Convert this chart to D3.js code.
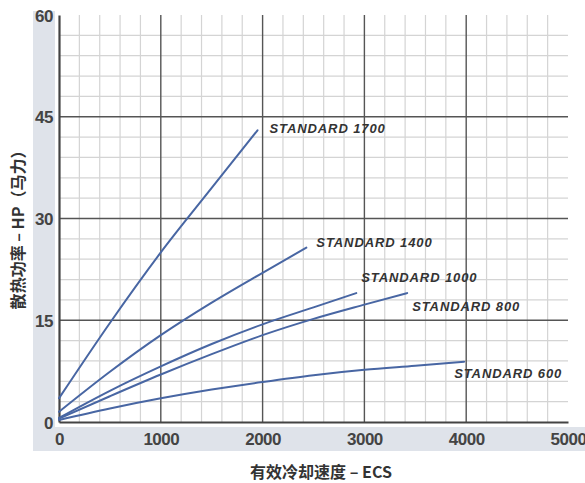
<!DOCTYPE html>
<html>
<head>
<meta charset="utf-8">
<script src="https://cdn.jsdelivr.net/npm/d3@7"></script>
<style>
	body { margin: 0; background: #fff; }
	svg { display: block; }
</style>
</head>
<body>
<div id="chart"></div>
<script>
// Chart data
//---------------------------------------------------------------------------
var modelNames = ["STANDARD 1700", "STANDARD 1400", "STANDARD 1000", "STANDARD 800", "STANDARD 600"];
var ecs1700 = [0, 500, 1000, 1500, 1950];
var hp1700 = [3.5, 14.6, 25, 34.5, 43];
var ecs1400 = [0, 500, 1000, 1500, 2000, 2430];
var hp1400 = [1.5, 7.4, 12.8, 17.6, 22, 25.7];
var ecs1000 = [0, 500, 1000, 1500, 2000, 2500, 2920];
var hp1000 = [0.6, 4.6, 8.2, 11.5, 14.4, 16.9, 19];
var ecs800 = [0, 500, 1000, 1500, 2000, 2500, 3000, 3420];
var hp800 = [0.5, 3.8, 7, 10, 12.8, 15.2, 17.3, 19];
var ecs600 = [0, 500, 1000, 1500, 2000, 2500, 3000, 3500, 3980];
var hp600 = [0.3, 2, 3.5, 4.8, 5.9, 6.9, 7.7, 8.3, 8.9];

var xTicks = [0, 1000, 2000, 3000, 4000, 5000];
var yTicks = [0, 15, 30, 45, 60];
var xTitle = "有效冷却速度 – ECS";
var yTitle = "散热功率 – HP（马力）";

// Graphical parameters
var width = 585, height = 483;
var mLeft = 59, mRight = 568, mTop = 15, mBottom = 422;
var lineColor = "#4866a3";

var svg = d3.select("#chart").append("svg")
	.attr("width", width)
	.attr("height", height);

var x = d3.scaleLinear().domain([0, 5000]).range([mLeft, mRight]);
var y = d3.scaleLinear().domain([0, 60]).range([mBottom, mTop]);

// grey bands behind the tick labels
svg.append("rect")
	.attr("x", 33).attr("y", 11)
	.attr("width", 22).attr("height", 440)
	.attr("fill", "#dfe3ea");
svg.append("rect")
	.attr("x", 33).attr("y", 427)
	.attr("width", width - 33).attr("height", 24)
	.attr("fill", "#dfe3ea");

// minor grid
var minorX = d3.range(200, 5000, 200).filter(function(d) { return d % 1000 != 0; });
var minorY = d3.range(3, 60, 3).filter(function(d) { return d % 15 != 0; });

svg.append("g").selectAll("line")
	.data(minorX).enter()
	.append("line")
	.attr("x1", function(d) { return x(d); })
	.attr("x2", function(d) { return x(d); })
	.attr("y1", mTop).attr("y2", mBottom)
	.attr("stroke", "#d4d4d4")
	.attr("stroke-width", 1.2);
svg.append("g").selectAll("line")
	.data(minorY).enter()
	.append("line")
	.attr("x1", mLeft).attr("x2", mRight)
	.attr("y1", function(d) { return y(d); })
	.attr("y2", function(d) { return y(d); })
	.attr("stroke", "#d4d4d4")
	.attr("stroke-width", 1.2);

// major grid
svg.append("g").selectAll("line")
	.data([1000, 2000, 3000, 4000]).enter()
	.append("line")
	.attr("x1", function(d) { return x(d); })
	.attr("x2", function(d) { return x(d); })
	.attr("y1", mTop).attr("y2", mBottom)
	.attr("stroke", "#555")
	.attr("stroke-width", 1.4);
svg.append("g").selectAll("line")
	.data([15, 30, 45]).enter()
	.append("line")
	.attr("x1", mLeft).attr("x2", mRight)
	.attr("y1", function(d) { return y(d); })
	.attr("y2", function(d) { return y(d); })
	.attr("stroke", "#555")
	.attr("stroke-width", 1.4);

// axes
var xAxis = d3.axisBottom(x).tickValues(xTicks).tickFormat(d3.format("d"))
	.tickSize(0).tickPadding(11);
var yAxis = d3.axisLeft(y).tickValues(yTicks).tickSize(0).tickPadding(6);

var gx = svg.append("g")
	.attr("transform", "translate(0," + mBottom + ")")
	.call(xAxis);
var gy = svg.append("g")
	.attr("transform", "translate(" + mLeft + ",0)")
	.call(yAxis);

[gx, gy].forEach(function(g) {
	g.select(".domain").attr("stroke", "#444").attr("stroke-width", 2.2);
	g.selectAll("text")
		.attr("fill", "#444")
		.style("font-family", "'Liberation Sans', Arial, sans-serif")
		.style("font-weight", "bold")
		.style("font-size", "17px")
		.style("letter-spacing", "-0.5px");
});
gy.selectAll("text").attr("dy", "0.36em");

// curves
var line = d3.line()
	.x(function(d) { return x(d[0]); })
	.y(function(d) { return y(d[1]); })
	.curve(d3.curveMonotoneX);

var curves = [
	d3.zip(ecs1700, hp1700),
	d3.zip(ecs1400, hp1400),
	d3.zip(ecs1000, hp1000),
	d3.zip(ecs800, hp800),
	d3.zip(ecs600, hp600)
];

svg.append("g").selectAll("path")
	.data(curves).enter()
	.append("path")
	.attr("d", line)
	.attr("fill", "none")
	.attr("stroke", lineColor)
	.attr("stroke-width", 2)
	.attr("stroke-linecap", "round");

// labels next to the line ends (offset in px)
var labelOffsets = [[12, 3], [10, -1], [5, -11], [5, 18], [-10, 16]];
svg.append("g").selectAll("text")
	.data(curves).enter()
	.append("text")
	.attr("x", function(d, i) { return x(d[d.length - 1][0]) + labelOffsets[i][0]; })
	.attr("y", function(d, i) { return y(d[d.length - 1][1]) + labelOffsets[i][1]; })
	.text(function(d, i) { return modelNames[i]; })
	.attr("fill", "#333")
	.style("font-family", "'Liberation Sans', Arial, sans-serif")
	.style("font-weight", "bold")
	.style("font-style", "italic")
	.style("font-size", "13px")
	.style("letter-spacing", "0.9px");

// axis titles
svg.append("text")
	.attr("x", 321).attr("y", 478)
	.attr("text-anchor", "middle")
	.text(xTitle)
	.attr("fill", "#333")
	.style("font-family", "'Noto Sans CJK SC', sans-serif")
	.style("font-weight", "bold")
	.style("font-size", "16px");

svg.append("text")
	.attr("transform", "translate(24,226) rotate(-90)")
	.attr("text-anchor", "middle")
	.text(yTitle)
	.attr("fill", "#333")
	.style("font-family", "'Noto Sans CJK SC', sans-serif")
	.style("font-weight", "bold")
	.style("font-size", "16px");
</script>
</body>
</html>
